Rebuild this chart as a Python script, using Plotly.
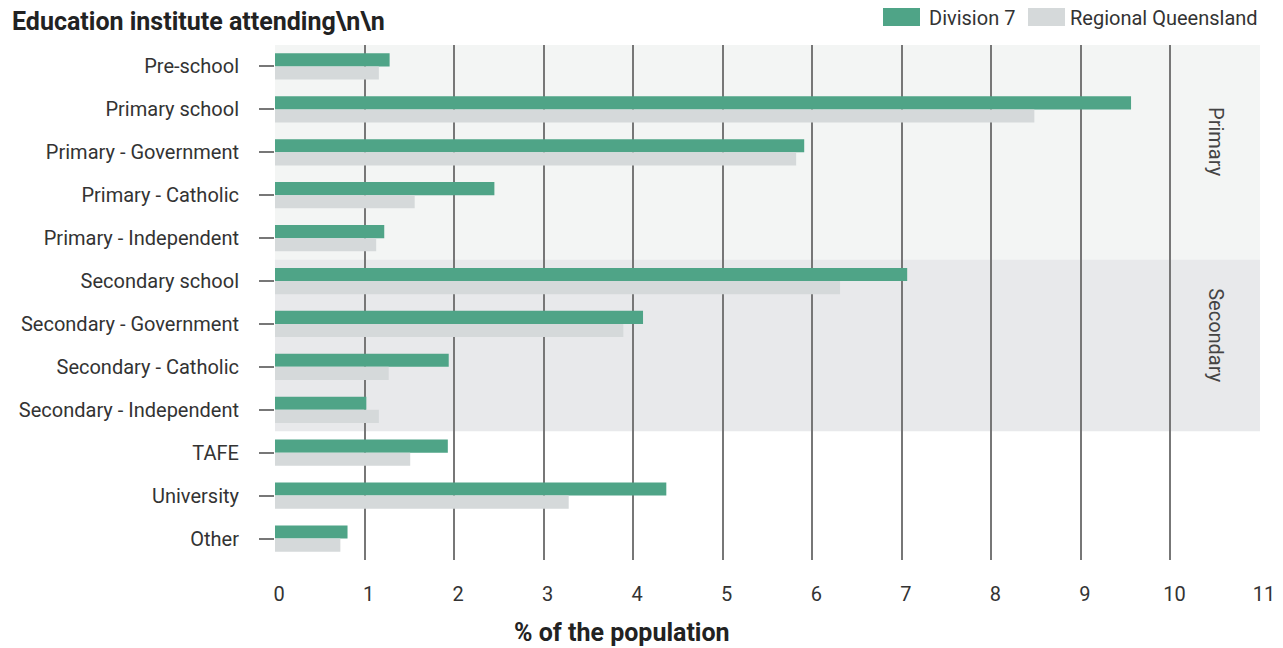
import plotly.graph_objects as go

categories = ["Pre-school", "Primary school", "Primary - Government", "Primary - Catholic",
              "Primary - Independent", "Secondary school", "Secondary - Government",
              "Secondary - Catholic", "Secondary - Independent", "TAFE", "University", "Other"]
division7 = [1.28, 9.56, 5.91, 2.45, 1.22, 7.06, 4.11, 1.94, 1.02, 1.93, 4.37, 0.81]
regional_qld = [1.16, 8.48, 5.82, 1.56, 1.13, 6.31, 3.89, 1.27, 1.16, 1.51, 3.28, 0.73]
x_ticks = list(range(0, 12))
groups = ["Primary", "Secondary"]
group_spans = [(-0.5, 4.5), (4.5, 8.5)]
group_colors = ["#f3f5f4", "#e8e9eb"]

GREEN = "#4fa487"
GREY = "#d5d9da"
FONT = "Roboto"

OFF = 8  # page body margin
W, H = 1283, 648
L = 275 - OFF
T = 45 - OFF
R = W - (1260 - OFF)
B = H - (560 - OFF)
pw = W - L - R
ph = H - T - B


def px(xr):
    return (xr - OFF - L) / pw


def py(yr):
    return (H - B - (yr - OFF)) / ph


fig = go.Figure()
fig.add_trace(go.Bar(y=categories, x=division7, orientation="h", name="Division 7",
                     marker=dict(color=GREEN, line=dict(width=0)), showlegend=False))
fig.add_trace(go.Bar(y=categories, x=regional_qld, orientation="h", name="Regional Queensland",
                     marker=dict(color=GREY, line=dict(width=0)), showlegend=False))

for g, (y0, y1), c in zip(groups, group_spans, group_colors):
    fig.add_shape(type="rect", xref="paper", x0=0, x1=1, yref="y", y0=y0, y1=y1,
                  fillcolor=c, line=dict(width=0), layer="below")
    fig.add_annotation(x=10.5, y=(y0 + y1) / 2, xref="x", yref="y", text=g, textangle=90,
                       showarrow=False, font=dict(family=FONT, size=20, color="#444444"),
                       yshift=10)

# custom legend
legend_items = [("Division 7", GREEN, 883, 920, 927), ("Regional Queensland", GREY, 1028, 1065, 1068)]
for name, col, sx0, sx1, tx in legend_items:
    fig.add_shape(type="rect", xref="paper", yref="paper",
                  x0=px(sx0), x1=px(sx1), y0=py(26), y1=py(8),
                  fillcolor=col, line=dict(width=0))
    fig.add_annotation(xref="paper", yref="paper", x=px(tx), y=py(18),
                       xanchor="left", yanchor="middle", text=name, showarrow=False,
                       font=dict(family=FONT, size=20, color="#333333"))

fig.add_annotation(xref="paper", yref="paper", x=px(622), y=py(632),
                   xanchor="center", yanchor="middle", text="<b>% of the population</b>",
                   showarrow=False, font=dict(family=FONT, size=25, color="#222222"))

fig.add_annotation(xref="paper", yref="paper", x=px(10), y=py(21),
                   xanchor="left", yanchor="middle", text="<b>Education institute attending\\n\\n</b>",
                   showarrow=False, font=dict(family=FONT, size=25, color="#222222"))

fig.update_layout(
    width=W, height=H,
    margin=dict(l=L, r=R, t=T, b=B, pad=0),
    paper_bgcolor="white", plot_bgcolor="white",
    barmode="group", bargap=0.39, bargroupgap=0,
    font=dict(family=FONT, size=20, color="#333333"),
    xaxis=dict(range=[0, 11], tickvals=x_ticks, ticktext=[str(v) for v in x_ticks],
               showgrid=True, gridcolor="#777777", gridwidth=2, zeroline=False,
               showline=False, ticks="", ticklabelstandoff=20, ticklabelshift=4,
               tickfont=dict(family=FONT, size=20, color="#333333")),
    yaxis=dict(range=[11.5, -0.5], showgrid=False, zeroline=False, showline=False,
               ticks="outside", ticklen=15, tickwidth=2, tickcolor="#777777",
               ticklabelstandoff=16,
               tickfont=dict(family=FONT, size=20, color="#333333")),
)

fig.write_html("out.html")
